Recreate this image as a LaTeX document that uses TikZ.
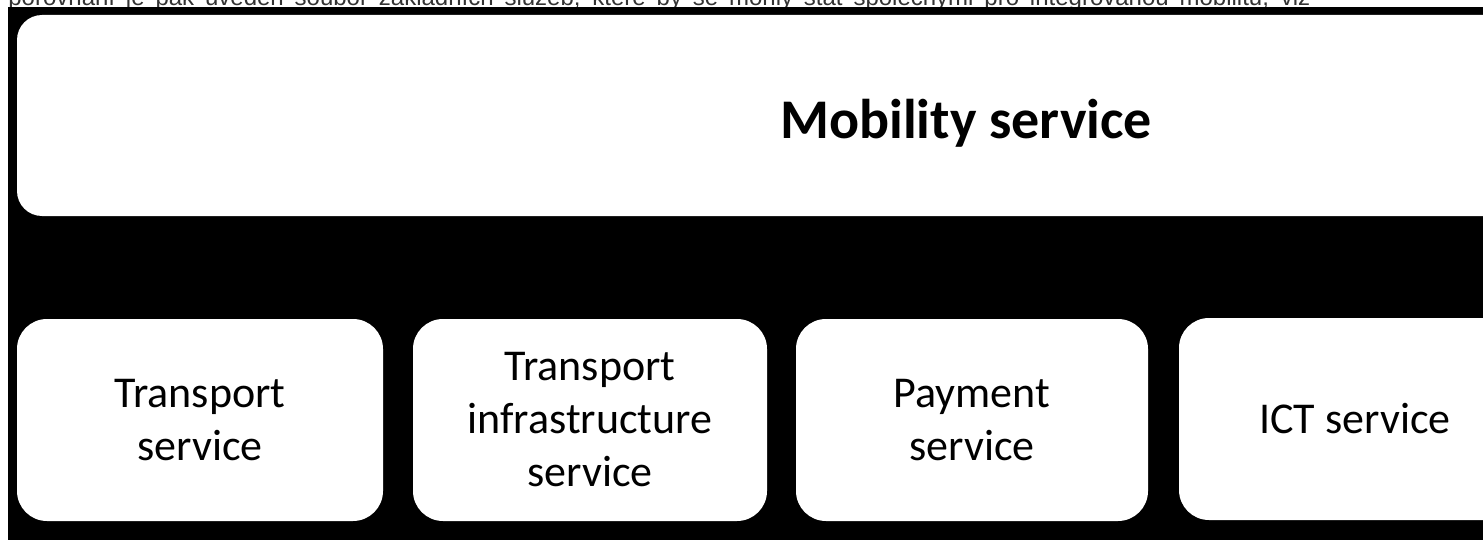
\documentclass[tikz,border=0pt]{standalone}
\usepackage{fontspec}
\setmainfont{Carlito}
\newfontfamily\arialfont{Liberation Sans}
\begin{document}
\begin{tikzpicture}[x=0.5pt,y=-0.5pt,
  svcbox/.style={fill=white,rounded corners=15pt,inner sep=0pt,align=center,
    font=\fontsize{22pt}{26.5pt}\selectfont,minimum height=101pt},
  topbox/.style={fill=white,rounded corners=12.5pt,inner sep=0pt},
  toptext/.style={inner sep=0pt,anchor=base,font=\fontsize{28pt}{34pt}\selectfont\bfseries}]
\useasboundingbox (0,0) rectangle (1483,540);
\clip (0,0) rectangle (1483,540);
\fill[white] (0,0) rectangle (1483,540);
\node[inner sep=0pt,anchor=base west,text=black!80,font=\arialfont\fontsize{12pt}{14pt}\selectfont] (cap) at (8,6)
  {\makebox[651pt][s]{porovnání je pak uveden soubor základních služeb, které by se mohly stát společnými pro integrovanou mobilitu, viz}};
\fill[black] (8,7) rectangle (1483,540);
\node[topbox,minimum width=949pt,minimum height=100.5pt] (mob) at (966,115.5) {};
\node[toptext] (mobtxt) at (966,139) {Mobility service};
\node[svcbox,minimum width=183pt] (ts) at (200,420) {Transport\\service};
\node[svcbox,minimum width=177pt] (tis) at (590,420) {Transport\\infrastructure\\service};
\node[svcbox,minimum width=176pt] (ps) at (972,420) {Payment\\service};
\node[svcbox,minimum width=176pt] (ict) at (1355,419) {ICT service};
\end{tikzpicture}
\end{document}
